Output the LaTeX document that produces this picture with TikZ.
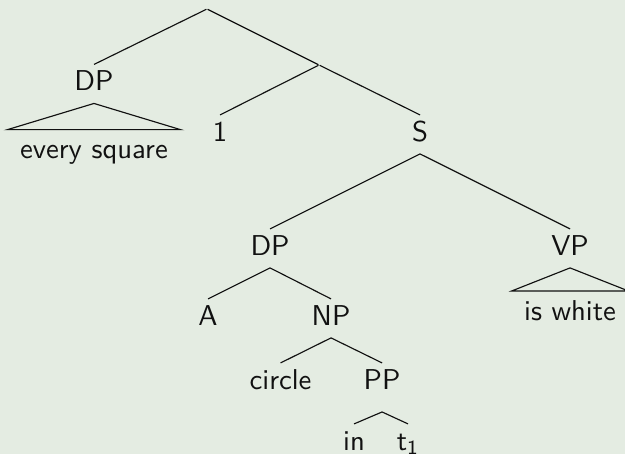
\documentclass[tikz,border=0pt]{standalone}
\usepackage{tikz}
\usepackage{xcolor}
\usetikzlibrary{positioning}
\definecolor{PaleSage}{HTML}{E4ECE2}
\definecolor{InkBlack}{HTML}{111111}
\tikzset{
  knot/.style={inner sep=0pt, minimum size=0pt},
  cat/.style={font=\sffamily, text=InkBlack, text height=1.5ex, text depth=.4ex, inner sep=2.5pt},
  roofleaf/.style={font=\sffamily, text=InkBlack, text height=1.5ex, text depth=.4ex, inner xsep=4.2pt, inner ysep=3.5pt},
  branch/.style={draw=InkBlack, line width=0.4pt}
}

\begin{document}
\begin{tikzpicture}[on grid]
\path[use as bounding box, fill=PaleSage] (-2.535,0.110) rectangle (5.119,-5.449);

\node[knot] (root) at (0,0) {};
\node[cat, below=0.918cm of root, xshift=-1.384cm] (dpa) {DP};
\node[knot, below=0.686cm of root, xshift=1.372cm] (mid) {};
\node[roofleaf, below=0.833cm of dpa] (every) {every square};
\node[cat, below=0.85cm of mid, xshift=-1.212cm] (one) {1};
\node[cat, below=0.85cm of mid, xshift=1.237cm] (s) {S};
\node[cat, below=1.396cm of s, xshift=-1.837cm] (dpb) {DP};
\node[cat, below=1.396cm of s, xshift=1.837cm] (vp) {VP};
\node[roofleaf, below=0.796cm of vp] (white) {is white};
\node[cat, below=0.857cm of dpb, xshift=-0.759cm] (a) {A};
\node[cat, below=0.857cm of dpb, xshift=0.747cm] (np) {NP};
\node[cat, below=0.784cm of np, xshift=-0.618cm] (circle) {circle};
\node[cat, below=0.784cm of np, xshift=0.625cm] (pp) {PP};
\node[cat, below=0.747cm of pp, xshift=-0.343cm] (in) {in};
\node[cat, below=0.747cm of pp, xshift=0.318cm] (t) {t\textsubscript{1}};

\draw[branch] (dpa.north) -- (root) -- (mid);
\draw[branch] (one.north) -- (mid) -- (s.north);
\draw[branch] (dpa.south) -- (every.north west) -- (every.north east) -- cycle;
\draw[branch] (dpb.north) -- (s.south) -- (vp.north);
\draw[branch] (vp.south) -- (white.north west) -- (white.north east) -- cycle;
\draw[branch] (a.north) -- (dpb.south) -- (np.north);
\draw[branch] (circle.north) -- (np.south) -- (pp.north);
\draw[branch] (in.north) -- ([yshift=-3.5pt]pp.south) -- (t.north);
\end{tikzpicture}
\end{document}
